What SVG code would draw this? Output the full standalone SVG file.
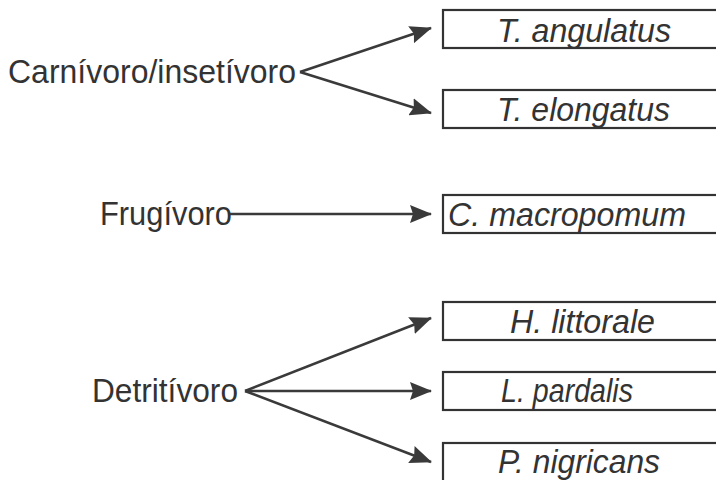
<svg xmlns="http://www.w3.org/2000/svg" width="716" height="480" viewBox="0 0 716 480">
  <defs>
    <marker id="arrow" viewBox="0 0 22 18" refX="21" refY="9" markerWidth="22" markerHeight="18" markerUnits="userSpaceOnUse" orient="auto">
      <path d="M0,0 L22,9 L0,18 L3,9 Z" fill="#3a3a3a"/>
    </marker>
    <style>
      .cat { font-family: "Liberation Sans", Arial, sans-serif; font-size: 33px; fill: #333; }
      .sp { font-family: "Liberation Sans", Arial, sans-serif; font-size: 33px; font-style: italic; fill: #333; }
      .box { fill: #fff; stroke: #333; stroke-width: 2.2; }
      .edge { fill: none; stroke: #3a3a3a; stroke-width: 2.6; }
    </style>
  </defs>
  <rect width="716" height="480" fill="#fff"/>

  <!-- feeding categories -->
  <g id="carnivoro"><text class="cat" x="8" y="83" textLength="288" lengthAdjust="spacingAndGlyphs">Carnívoro/insetívoro</text></g>
  <g id="frugivoro"><text class="cat" x="100" y="225" textLength="132" lengthAdjust="spacingAndGlyphs">Frugívoro</text></g>
  <g id="detritivoro"><text class="cat" x="92" y="402" textLength="146" lengthAdjust="spacingAndGlyphs">Detritívoro</text></g>

  <!-- species -->
  <g id="t-angulatus"><rect class="box" x="443" y="10" width="290" height="38"/><text class="sp" x="497" y="42" textLength="174" lengthAdjust="spacingAndGlyphs">T. angulatus</text></g>
  <g id="t-elongatus"><rect class="box" x="443" y="90" width="290" height="38"/><text class="sp" x="497" y="121" textLength="173" lengthAdjust="spacingAndGlyphs">T. elongatus</text></g>
  <g id="c-macropomum"><rect class="box" x="443" y="195" width="290" height="38"/><text class="sp" x="448" y="226" textLength="238" lengthAdjust="spacingAndGlyphs">C. macropomum</text></g>
  <g id="h-littorale"><rect class="box" x="443" y="302" width="290" height="38"/><text class="sp" x="510" y="333" textLength="145" lengthAdjust="spacingAndGlyphs">H. littorale</text></g>
  <g id="l-pardalis"><rect class="box" x="443" y="372" width="290" height="38"/><text class="sp" x="501" y="402" textLength="132" lengthAdjust="spacingAndGlyphs">L. pardalis</text></g>
  <g id="p-nigricans"><rect class="box" x="443" y="443" width="290" height="40"/><text class="sp" x="498" y="473" textLength="162" lengthAdjust="spacingAndGlyphs">P. nigricans</text></g>

  <!-- connectors -->
  <g id="connectors">
    <path class="edge" d="M300,72 L431,28" marker-end="url(#arrow)"/>
    <path class="edge" d="M300,72 L431,113" marker-end="url(#arrow)"/>
    <path class="edge" d="M230,214 L431,214" marker-end="url(#arrow)"/>
    <path class="edge" d="M245,391 L431,318" marker-end="url(#arrow)"/>
    <path class="edge" d="M245,391 L431,391" marker-end="url(#arrow)"/>
    <path class="edge" d="M245,391 L431,462" marker-end="url(#arrow)"/>
  </g>
</svg>
